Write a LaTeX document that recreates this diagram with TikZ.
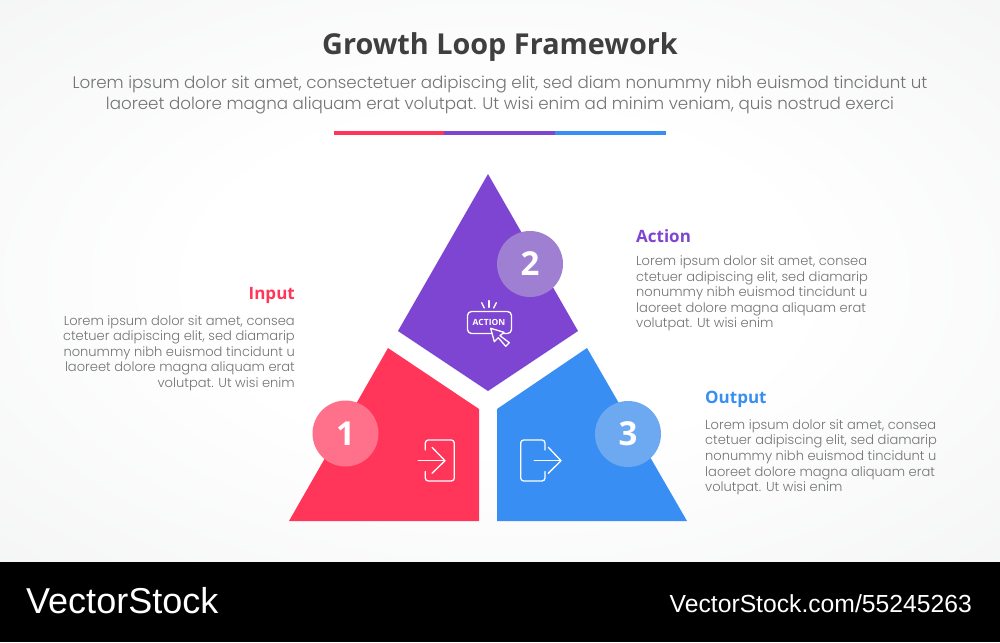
\documentclass[tikz,border=0pt]{standalone}
\usepackage{fontspec}
\setmainfont{Poppins Light}
\newfontfamily\headfont{Open Sans}
\newfontfamily\stockfont{Liberation Sans}
\usetikzlibrary{positioning}
\definecolor{inred}{HTML}{FF3559}
\definecolor{actpurple}{HTML}{7E44D2}
\definecolor{outblue}{HTML}{388EF2}
\definecolor{inbadge}{HTML}{FF708A}
\definecolor{actbadge}{HTML}{9F7FD2}
\definecolor{outbadge}{HTML}{6DA9F0}
\definecolor{titlegray}{HTML}{3F3F3F}
\definecolor{bodygray}{HTML}{737373}
\definecolor{bgedge}{HTML}{EEEFEF}
\pgfdeclareradialshading{bgglow}{\pgfpoint{0bp}{0bp}}{color(0bp)=(white); color(15bp)=(white); color(50bp)=(bgedge); color(100bp)=(bgedge)}
\tikzset{
	bodytext/.style={text=bodygray,inner sep=0pt,font=\fontsize{13.05}{15.55}\selectfont},
	headtext/.style={inner sep=0pt,font=\headfont\bfseries\fontsize{17}{20}\selectfont},
	badge/.style={circle,minimum size=66pt,inner sep=0pt,text=white,font=\headfont\bfseries\fontsize{33}{35}\selectfont},
	iconline/.style={draw=white,line width=1.3pt,line join=round,line cap=round},
}
\begin{document}
\begin{tikzpicture}[x=1pt,y=-1pt]
		\useasboundingbox(0,0) rectangle (1000,642);
		\shade[shading=bgglow](0,0) rectangle (1000,562);
		\fill[black](0,562) rectangle (1000,642);
		\node(title)[text=titlegray,inner sep=0pt,font=\headfont\bfseries\fontsize{28.8}{32}\selectfont] at (500,47){Growth Loop Framework};
		\node(intro)[bodytext,align=center,font=\fontsize{16.7}{20.2}\selectfont] at (500,95){Lorem ipsum dolor sit amet, consectetuer adipiscing elit, sed diam nonummy nibh euismod tincidunt ut\\laoreet dolore magna aliquam erat volutpat. Ut wisi enim ad minim veniam, quis nostrud exerci};
		\fill[inred](334,131) rectangle (444,134.5);
		\fill[actpurple](444,131) rectangle (555,134.5);
		\fill[outblue](555,131) rectangle (666,134.5);
		\fill[actpurple](488,174) -- (578,331) -- (488,391) -- (398,331) -- cycle;
		\fill[inred](388,348) -- (479,409) -- (479,521) -- (289,521) -- cycle;
		\fill[outblue](587,348) -- (497,409) -- (497,521) -- (687,521) -- cycle;
		\node(one)[badge,fill=inbadge] at (345.5,433.5){1};
		\node(two)[badge,fill=actbadge] at (530,264){2};
		\node(three)[badge,fill=outbadge] at (628,434){3};
		\draw[iconline,rounded corners=4pt](467.5,311.5) rectangle (511.5,333.5);
		\node(actionlabel)[text=white,inner sep=0pt,font=\headfont\bfseries\fontsize{8.5}{10}\selectfont] at (489,322){ACTION};
		\draw[iconline](481.7,302.7) -- (484.3,308);
		\draw[iconline](489,300.7) -- (489,307.3);
		\draw[iconline](496.3,302.7) -- (493.7,308);
		\draw[iconline,fill=actpurple](490.7,328.3) -- (504,332.3) -- (500,335.7) -- (509.3,342.7) -- (505.7,346.3) -- (498.3,337.7) -- (494.3,341.7) -- cycle;
		\draw[iconline,rounded corners=3pt](425.3,450) -- (425.3,440) -- (454.3,440) -- (454.3,481) -- (425.3,481) -- (425.3,471.5);
		\draw[iconline](418.3,460.7) -- (445,460.7);
		\draw[iconline](432,447.3) -- (445,460.7) -- (432,473.3);
		\draw[iconline,rounded corners=3pt](545,450) -- (545,440) -- (520.7,440) -- (520.7,481) -- (545,481) -- (545,471.5);
		\draw[iconline](534.3,460.7) -- (561,460.7);
		\draw[iconline](548.3,447.3) -- (561,460.7) -- (548.3,473.3);
		\node(inputhead)[headtext,text=inred,anchor=east] at (295,295){Input};
		\node(inputtext)[bodytext,align=right,below=12pt of inputhead.south east,anchor=north east]{Lorem ipsum dolor sit amet, consea\\ctetuer adipiscing elit, sed diamarip\\nonummy nibh euismod tincidunt u\\laoreet dolore magna aliquam erat\\volutpat. Ut wisi enim};
		\node(actionhead)[headtext,text=actpurple,anchor=west] at (636,236){Action};
		\node(actiontext)[bodytext,align=left,below=13pt of actionhead.south west,anchor=north west]{Lorem ipsum dolor sit amet, consea\\ctetuer adipiscing elit, sed diamarip\\nonummy nibh euismod tincidunt u\\laoreet dolore magna aliquam erat\\volutpat. Ut wisi enim};
		\node(outputhead)[headtext,text=outblue,anchor=west] at (705,399){Output};
		\node(outputtext)[bodytext,align=left,below=12pt of outputhead.south west,anchor=north west]{Lorem ipsum dolor sit amet, consea\\ctetuer adipiscing elit, sed diamarip\\nonummy nibh euismod tincidunt u\\laoreet dolore magna aliquam erat\\volutpat. Ut wisi enim};
		\node(stocklogo)[text=white,inner sep=0pt,anchor=west,font=\stockfont\fontsize{36}{38}\selectfont] at (26,601){VectorStock};
		\node(stockurl)[text=white,inner sep=0pt,anchor=east,font=\stockfont\fontsize{24.7}{26}\selectfont] at (972,604){VectorStock.com/55245263};
	\end{tikzpicture}
\end{document}
